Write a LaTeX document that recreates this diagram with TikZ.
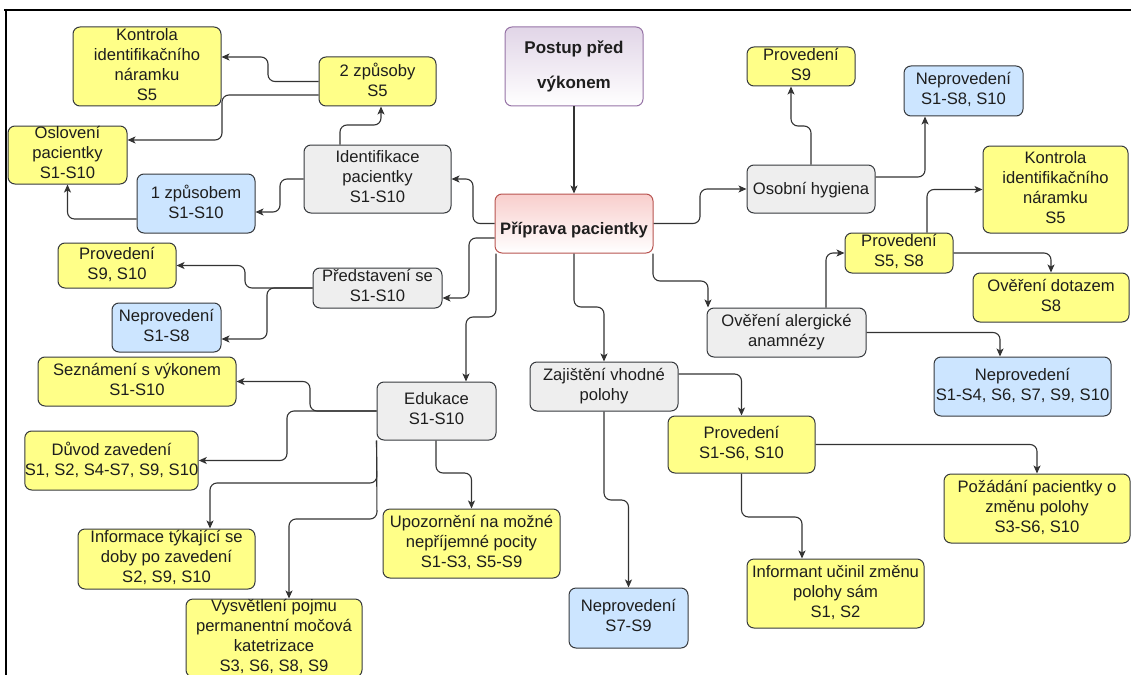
\documentclass[tikz,border=0pt]{standalone}
\usepackage{fontspec}
\setmainfont{Liberation Sans}
\usetikzlibrary{arrows.meta}

\definecolor{yelfill}{HTML}{FFFF88}
\definecolor{bluefill}{HTML}{CCE5FF}
\definecolor{grayfill}{HTML}{EEEEEE}
\definecolor{boxline}{HTML}{36393D}
\definecolor{purpfill}{HTML}{E1D5E7}
\definecolor{purpline}{HTML}{9673A6}
\definecolor{redfill}{HTML}{F8CECC}
\definecolor{redline}{HTML}{B85450}
\definecolor{edgecol}{HTML}{333333}
\definecolor{txt}{HTML}{1E1E1E}

% invisible rules giving text lines fixed line boxes
\newcommand{\linestrut}{\rule[-4.25pt]{0pt}{20pt}}
\newcommand{\tallstrut}{\rule{0pt}{26.25pt}}
\newcommand{\midstrut}{\rule{0pt}{25.25pt}}
\newcommand{\lowstrut}{\rule[-4.25pt]{0pt}{0pt}}

\begin{document}
\begin{tikzpicture}[x=1pt,y=-1pt,
  basebox/.style={draw=boxline, line width=1pt, rounded corners=7pt, inner sep=0pt,
    align=center, text=txt},
  box/.style={basebox, font=\fontsize{16.6}{20}\selectfont,
    execute at begin node=\linestrut, execute at end node=\linestrut},
  yel/.style={box, fill=yelfill},
  blu/.style={box, fill=bluefill},
  gry/.style={box, fill=grayfill},
  sz/.style 2 args={minimum width=#1pt, minimum height=#2pt},
  link/.style={draw=edgecol, line width=1.1pt, rounded corners=7pt,
    -{Stealth[length=8pt,width=7pt,inset=2pt]}}
]
\clip (0,0) rectangle (1131,674);

% outer frame
\draw[line width=2.5pt] (4,10) -- (1140,10);
\draw[line width=2.5pt] (6,9) -- (6,690);

% main chain
\node[basebox, draw=purpline, top color=purpfill, bottom color=white, sz={138}{79},
  font=\bfseries\fontsize{17}{35}\selectfont,
  execute at begin node=\tallstrut,
  execute at end node=\lowstrut] (postup) at (574,66.5) {Postup před\\výkonem};
\node[basebox, draw=redline, top color=redfill, bottom color=white, sz={158}{59},
  font=\bfseries\fontsize{16.6}{20}\selectfont,
  execute at begin node=\midstrut,
  execute at end node=\lowstrut] (prip) at (574,223.5) {Příprava pacientky};

% identification branch
\node[gry, sz={147}{68}] (idf) at (377.5,179) {Identifikace\\pacientky\\S1-S10};
\node[yel, sz={117}{49}] (zp2) at (377.5,81.5) {2 způsoby\\S5};
\node[blu, sz={118}{59}] (zp1) at (196,203.5) {1 způsobem\\S1-S10};
\node[yel, sz={148}{79}] (kl) at (147,66.5) {Kontrola\\identifikačního\\náramku\\S5};
\node[yel, sz={119}{58}] (osl) at (67.5,155) {Oslovení\\pacientky\\S1-S10};

% hygiene branch
\node[gry, sz={128}{48}] (hyg) at (811,189) {Osobní hygiena};
\node[yel, sz={108}{39}] (hygY) at (801,66.5) {Provedení\\S9};
\node[blu, sz={119}{50}] (hygN) at (963.5,91) {Neprovedení\\S1-S8, S10};

% allergy branch
\node[gry, sz={159}{49}] (ale) at (786.5,332.5) {Ověření alergické\\anamnézy};
\node[yel, sz={108}{40}] (aleY) at (899,253) {Provedení\\S5, S8};
\node[yel, sz={145}{87}] (kr) at (1055.5,189.5) {Kontrola\\identifikačního\\náramku\\S5};
\node[yel, sz={156}{49}] (dot) at (1051,297.5) {Ověření dotazem\\S8};
\node[blu, sz={177}{59}] (aleN) at (1022.5,386.5) {Neprovedení\\S1-S4, S6, S7, S9, S10};

% introduction branch
\node[gry, sz={129}{40}] (pred) at (377.5,288) {Představení se\\S1-S10};
\node[yel, sz={118}{45}] (predY) at (117,265.5) {Provedení\\S9, S10};
\node[blu, sz={109}{49}] (predN) at (166.5,327.5) {Neprovedení\\S1-S8};

% education branch
\node[gry, sz={119}{58}] (edu) at (436.5,411) {Edukace\\S1-S10};
\node[yel, sz={198}{49}] (sez) at (137,381.5) {Seznámení s výkonem\\S1-S10};
\node[yel, sz={169}{59}] (duv) at (111.5,460.5) {Důvod zavedení\\S1, S2, S4-S7, S9, S10};
\node[yel, sz={177}{60}] (inf) at (166.5,559) {Informace týkající se\\doby po zavedení\\S2, S9, S10};
\node[yel, sz={176}{78}] (vys) at (274,638) {Vysvětlení pojmu\\permanentní močová\\katetrizace\\S3, S6, S8, S9};
\node[yel, sz={177}{69}] (upo) at (471.5,543.5) {Upozornění na možné\\nepříjemné pocity\\S1-S3, S5-S9};

% positioning branch
\node[gry, sz={148}{49}] (zaj) at (604,386.5) {Zajištění vhodné\\polohy};
\node[yel, sz={147}{57}] (zajY) at (741.5,444.5) {Provedení\\S1-S6, S10};
\node[blu, sz={119}{60}] (zajN) at (628.5,618) {Neprovedení\\S7-S9};
\node[yel, sz={186}{69}] (poz) at (1037,508.5) {Požádání pacientky o\\změnu polohy\\S3-S6, S10};
\node[yel, sz={177}{69}] (infm) at (835.5,593.5) {Informant učinil změnu\\polohy sám\\S1, S2};

% connectors
\draw[link] (postup.south) -- (prip.north);
\draw[link] (prip.west) -- (473,223.5) -- (473,179) -- (idf.east);
\draw[link] (prip.east) -- (700,223.5) -- (700,189) -- (hyg.west);
\draw[link] (idf.north -| 340,0) -- (340,125) -- (381,125) -- (zp2.south -| 381,0);
\draw[link] (zp2.west) -- (268,81.5) -- (268,57) -- (kl.east |- 0,57);
\draw[link] (zp2.west |- 0,95) -- (222,95) -- (222,140) -- (osl.east |- 0,140);
\draw[link] (idf.west) -- (280,179) -- (280,212) -- (zp1.east |- 0,212);
\draw[link] (zp1.west |- 0,219) -- (67.5,219) -- (osl.south);
\draw[link] (prip.west |- 0,238) -- (469,238) -- (469,298) -- (pred.east |- 0,298);
\draw[link] (pred.west) -- (245,288) -- (245,265.5) -- (predY.east);
\draw[link] (pred.west) -- (267,288) -- (267,339) -- (predN.east |- 0,339);
\draw[link] (prip.south -| 496,0) -- (496,317) -- (466,317) -- (edu.north -| 466,0);
\draw[link] (prip.south) -- (574,307) -- (604,307) -- (zaj.north);
\draw[link] (prip.south -| 653,0) -- (653,281) -- (708,281) -- (ale.north -| 708,0);
\draw[link] (hyg.north) -- (811,126) -- (791,126) -- (hygY.south -| 791,0);
\draw[link] (hyg.east |- 0,177) -- (925,177) -- (hygN.south -| 925,0);
\draw[link] (ale.north -| 826,0) -- (826,253) -- (aleY.west);
\draw[link] (aleY.north -| 927,0) -- (927,189.5) -- (kr.west);
\draw[link] (aleY.east) -- (1051,253) -- (dot.north);
\draw[link] (ale.east) -- (1000,332.5) -- (aleN.north -| 1000,0);
\draw[link] (zaj.east |- 0,374) -- (741.5,374) -- (zajY.north);
\draw[link] (zaj.south) -- (604,500) -- (628.5,500) -- (zajN.north);
\draw[link] (zajY.east) -- (1037,444.5) -- (poz.north);
\draw[link] (zajY.south) -- (741.5,517) -- (802,517) -- (infm.north -| 802,0);
\draw[link] (edu.west) -- (310,411) -- (310,381.5) -- (sez.east);
\draw[link] (edu.west) -- (287,411) -- (287,460.5) -- (duv.east);
\draw[link] (edu.south west) -- (377,483) -- (210,483) -- (inf.north -| 210,0);
\draw[link] (edu.south west) -- (377,519) -- (289,519) -- (vys.north -| 289,0);
\draw[link] (edu.south -| 436,0) -- (436,473) -- (471.5,473) -- (upo.north);
\end{tikzpicture}
\end{document}
